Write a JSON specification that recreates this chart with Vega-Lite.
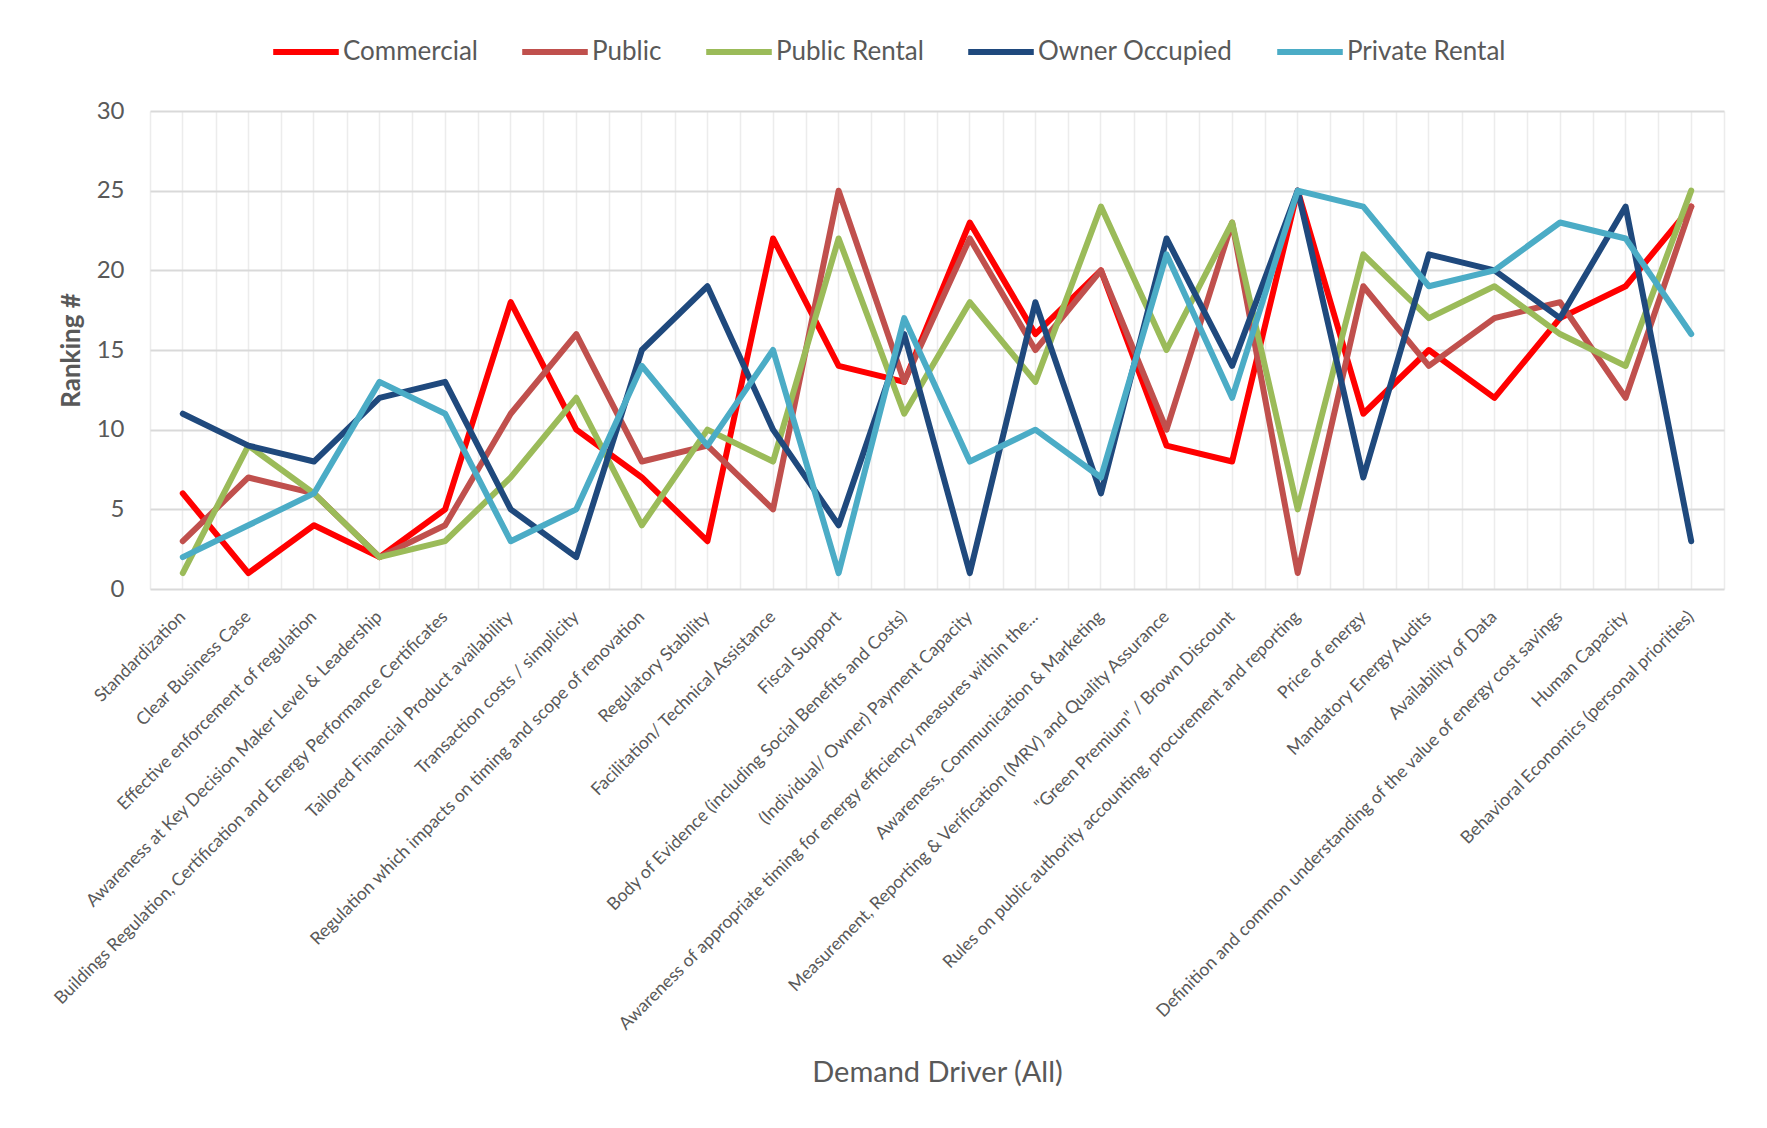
{
  "$schema": "https://vega.github.io/schema/vega-lite/v6.json",
  "autosize": {"type": "none"},
  "padding": {"left": 150, "top": 111, "right": 43, "bottom": 539},
  "width": 1574,
  "height": 478,
  "background": "white",
  "config": {
    "font": "Lato",
    "view": {"stroke": null},
    "axis": {"labelColor": "#595959", "titleColor": "#595959", "labelFont": "Lato", "titleFont": "Lato"},
    "legend": {"labelFont": "Lato"}
  },
  "datasets": {
    "ranks": [
      {"driver": "Standardization", "segment": "Commercial", "rank": 6},
      {"driver": "Clear Business Case", "segment": "Commercial", "rank": 1},
      {"driver": "Effective enforcement of regulation", "segment": "Commercial", "rank": 4},
      {"driver": "Awareness at Key Decision Maker Level & Leadership", "segment": "Commercial", "rank": 2},
      {"driver": "Buildings Regulation, Certification and Energy Performance Certificates", "segment": "Commercial", "rank": 5},
      {"driver": "Tailored Financial Product availability", "segment": "Commercial", "rank": 18},
      {"driver": "Transaction costs / simplicity", "segment": "Commercial", "rank": 10},
      {"driver": "Regulation which impacts on timing and scope of renovation", "segment": "Commercial", "rank": 7},
      {"driver": "Regulatory Stability", "segment": "Commercial", "rank": 3},
      {"driver": "Facilitation/ Technical Assistance", "segment": "Commercial", "rank": 22},
      {"driver": "Fiscal Support", "segment": "Commercial", "rank": 14},
      {"driver": "Body of Evidence (including Social Benefits and Costs)", "segment": "Commercial", "rank": 13},
      {"driver": "(Individual/ Owner) Payment Capacity", "segment": "Commercial", "rank": 23},
      {"driver": "Awareness of appropriate timing for energy efficiency measures within the...", "segment": "Commercial", "rank": 16},
      {"driver": "Awareness, Communication & Marketing", "segment": "Commercial", "rank": 20},
      {"driver": "Measurement, Reporting & Verification (MRV) and Quality Assurance", "segment": "Commercial", "rank": 9},
      {"driver": "\"Green Premium\" / Brown Discount", "segment": "Commercial", "rank": 8},
      {"driver": "Rules on public authority accounting, procurement and reporting", "segment": "Commercial", "rank": 25},
      {"driver": "Price of energy", "segment": "Commercial", "rank": 11},
      {"driver": "Mandatory Energy Audits", "segment": "Commercial", "rank": 15},
      {"driver": "Availability of Data", "segment": "Commercial", "rank": 12},
      {"driver": "Definition and common understanding of the value of energy cost savings", "segment": "Commercial", "rank": 17},
      {"driver": "Human Capacity", "segment": "Commercial", "rank": 19},
      {"driver": "Behavioral Economics (personal priorities)", "segment": "Commercial", "rank": 24},

      {"driver": "Standardization", "segment": "Public", "rank": 3},
      {"driver": "Clear Business Case", "segment": "Public", "rank": 7},
      {"driver": "Effective enforcement of regulation", "segment": "Public", "rank": 6},
      {"driver": "Awareness at Key Decision Maker Level & Leadership", "segment": "Public", "rank": 2},
      {"driver": "Buildings Regulation, Certification and Energy Performance Certificates", "segment": "Public", "rank": 4},
      {"driver": "Tailored Financial Product availability", "segment": "Public", "rank": 11},
      {"driver": "Transaction costs / simplicity", "segment": "Public", "rank": 16},
      {"driver": "Regulation which impacts on timing and scope of renovation", "segment": "Public", "rank": 8},
      {"driver": "Regulatory Stability", "segment": "Public", "rank": 9},
      {"driver": "Facilitation/ Technical Assistance", "segment": "Public", "rank": 5},
      {"driver": "Fiscal Support", "segment": "Public", "rank": 25},
      {"driver": "Body of Evidence (including Social Benefits and Costs)", "segment": "Public", "rank": 13},
      {"driver": "(Individual/ Owner) Payment Capacity", "segment": "Public", "rank": 22},
      {"driver": "Awareness of appropriate timing for energy efficiency measures within the...", "segment": "Public", "rank": 15},
      {"driver": "Awareness, Communication & Marketing", "segment": "Public", "rank": 20},
      {"driver": "Measurement, Reporting & Verification (MRV) and Quality Assurance", "segment": "Public", "rank": 10},
      {"driver": "\"Green Premium\" / Brown Discount", "segment": "Public", "rank": 23},
      {"driver": "Rules on public authority accounting, procurement and reporting", "segment": "Public", "rank": 1},
      {"driver": "Price of energy", "segment": "Public", "rank": 19},
      {"driver": "Mandatory Energy Audits", "segment": "Public", "rank": 14},
      {"driver": "Availability of Data", "segment": "Public", "rank": 17},
      {"driver": "Definition and common understanding of the value of energy cost savings", "segment": "Public", "rank": 18},
      {"driver": "Human Capacity", "segment": "Public", "rank": 12},
      {"driver": "Behavioral Economics (personal priorities)", "segment": "Public", "rank": 24},

      {"driver": "Standardization", "segment": "Public Rental", "rank": 1},
      {"driver": "Clear Business Case", "segment": "Public Rental", "rank": 9},
      {"driver": "Effective enforcement of regulation", "segment": "Public Rental", "rank": 6},
      {"driver": "Awareness at Key Decision Maker Level & Leadership", "segment": "Public Rental", "rank": 2},
      {"driver": "Buildings Regulation, Certification and Energy Performance Certificates", "segment": "Public Rental", "rank": 3},
      {"driver": "Tailored Financial Product availability", "segment": "Public Rental", "rank": 7},
      {"driver": "Transaction costs / simplicity", "segment": "Public Rental", "rank": 12},
      {"driver": "Regulation which impacts on timing and scope of renovation", "segment": "Public Rental", "rank": 4},
      {"driver": "Regulatory Stability", "segment": "Public Rental", "rank": 10},
      {"driver": "Facilitation/ Technical Assistance", "segment": "Public Rental", "rank": 8},
      {"driver": "Fiscal Support", "segment": "Public Rental", "rank": 22},
      {"driver": "Body of Evidence (including Social Benefits and Costs)", "segment": "Public Rental", "rank": 11},
      {"driver": "(Individual/ Owner) Payment Capacity", "segment": "Public Rental", "rank": 18},
      {"driver": "Awareness of appropriate timing for energy efficiency measures within the...", "segment": "Public Rental", "rank": 13},
      {"driver": "Awareness, Communication & Marketing", "segment": "Public Rental", "rank": 24},
      {"driver": "Measurement, Reporting & Verification (MRV) and Quality Assurance", "segment": "Public Rental", "rank": 15},
      {"driver": "\"Green Premium\" / Brown Discount", "segment": "Public Rental", "rank": 23},
      {"driver": "Rules on public authority accounting, procurement and reporting", "segment": "Public Rental", "rank": 5},
      {"driver": "Price of energy", "segment": "Public Rental", "rank": 21},
      {"driver": "Mandatory Energy Audits", "segment": "Public Rental", "rank": 17},
      {"driver": "Availability of Data", "segment": "Public Rental", "rank": 19},
      {"driver": "Definition and common understanding of the value of energy cost savings", "segment": "Public Rental", "rank": 16},
      {"driver": "Human Capacity", "segment": "Public Rental", "rank": 14},
      {"driver": "Behavioral Economics (personal priorities)", "segment": "Public Rental", "rank": 25},

      {"driver": "Standardization", "segment": "Owner Occupied", "rank": 11},
      {"driver": "Clear Business Case", "segment": "Owner Occupied", "rank": 9},
      {"driver": "Effective enforcement of regulation", "segment": "Owner Occupied", "rank": 8},
      {"driver": "Awareness at Key Decision Maker Level & Leadership", "segment": "Owner Occupied", "rank": 12},
      {"driver": "Buildings Regulation, Certification and Energy Performance Certificates", "segment": "Owner Occupied", "rank": 13},
      {"driver": "Tailored Financial Product availability", "segment": "Owner Occupied", "rank": 5},
      {"driver": "Transaction costs / simplicity", "segment": "Owner Occupied", "rank": 2},
      {"driver": "Regulation which impacts on timing and scope of renovation", "segment": "Owner Occupied", "rank": 15},
      {"driver": "Regulatory Stability", "segment": "Owner Occupied", "rank": 19},
      {"driver": "Facilitation/ Technical Assistance", "segment": "Owner Occupied", "rank": 10},
      {"driver": "Fiscal Support", "segment": "Owner Occupied", "rank": 4},
      {"driver": "Body of Evidence (including Social Benefits and Costs)", "segment": "Owner Occupied", "rank": 16},
      {"driver": "(Individual/ Owner) Payment Capacity", "segment": "Owner Occupied", "rank": 1},
      {"driver": "Awareness of appropriate timing for energy efficiency measures within the...", "segment": "Owner Occupied", "rank": 18},
      {"driver": "Awareness, Communication & Marketing", "segment": "Owner Occupied", "rank": 6},
      {"driver": "Measurement, Reporting & Verification (MRV) and Quality Assurance", "segment": "Owner Occupied", "rank": 22},
      {"driver": "\"Green Premium\" / Brown Discount", "segment": "Owner Occupied", "rank": 14},
      {"driver": "Rules on public authority accounting, procurement and reporting", "segment": "Owner Occupied", "rank": 25},
      {"driver": "Price of energy", "segment": "Owner Occupied", "rank": 7},
      {"driver": "Mandatory Energy Audits", "segment": "Owner Occupied", "rank": 21},
      {"driver": "Availability of Data", "segment": "Owner Occupied", "rank": 20},
      {"driver": "Definition and common understanding of the value of energy cost savings", "segment": "Owner Occupied", "rank": 17},
      {"driver": "Human Capacity", "segment": "Owner Occupied", "rank": 24},
      {"driver": "Behavioral Economics (personal priorities)", "segment": "Owner Occupied", "rank": 3},

      {"driver": "Standardization", "segment": "Private Rental", "rank": 2},
      {"driver": "Clear Business Case", "segment": "Private Rental", "rank": 4},
      {"driver": "Effective enforcement of regulation", "segment": "Private Rental", "rank": 6},
      {"driver": "Awareness at Key Decision Maker Level & Leadership", "segment": "Private Rental", "rank": 13},
      {"driver": "Buildings Regulation, Certification and Energy Performance Certificates", "segment": "Private Rental", "rank": 11},
      {"driver": "Tailored Financial Product availability", "segment": "Private Rental", "rank": 3},
      {"driver": "Transaction costs / simplicity", "segment": "Private Rental", "rank": 5},
      {"driver": "Regulation which impacts on timing and scope of renovation", "segment": "Private Rental", "rank": 14},
      {"driver": "Regulatory Stability", "segment": "Private Rental", "rank": 9},
      {"driver": "Facilitation/ Technical Assistance", "segment": "Private Rental", "rank": 15},
      {"driver": "Fiscal Support", "segment": "Private Rental", "rank": 1},
      {"driver": "Body of Evidence (including Social Benefits and Costs)", "segment": "Private Rental", "rank": 17},
      {"driver": "(Individual/ Owner) Payment Capacity", "segment": "Private Rental", "rank": 8},
      {"driver": "Awareness of appropriate timing for energy efficiency measures within the...", "segment": "Private Rental", "rank": 10},
      {"driver": "Awareness, Communication & Marketing", "segment": "Private Rental", "rank": 7},
      {"driver": "Measurement, Reporting & Verification (MRV) and Quality Assurance", "segment": "Private Rental", "rank": 21},
      {"driver": "\"Green Premium\" / Brown Discount", "segment": "Private Rental", "rank": 12},
      {"driver": "Rules on public authority accounting, procurement and reporting", "segment": "Private Rental", "rank": 25},
      {"driver": "Price of energy", "segment": "Private Rental", "rank": 24},
      {"driver": "Mandatory Energy Audits", "segment": "Private Rental", "rank": 19},
      {"driver": "Availability of Data", "segment": "Private Rental", "rank": 20},
      {"driver": "Definition and common understanding of the value of energy cost savings", "segment": "Private Rental", "rank": 23},
      {"driver": "Human Capacity", "segment": "Private Rental", "rank": 22},
      {"driver": "Behavioral Economics (personal priorities)", "segment": "Private Rental", "rank": 16}
    ]
  },
  "data": {"name": "ranks"},
  "resolve": {"axis": {"x": "independent"}},
  "layer": [
    {
      "mark": {"type": "line", "strokeOpacity": 0},
      "encoding": {
        "x": {
          "field": "driver", "type": "nominal", "sort": null,
          "scale": {"type": "band", "paddingInner": 0, "paddingOuter": 0},
          "axis": {"orient": "bottom", "tickBand": "extent", "grid": true, "gridColor": "#ececec", "gridWidth": 1.5, "labels": false, "ticks": false, "domain": false, "title": null}
        },
        "y": {"field": "rank", "type": "quantitative", "scale": {"domain": [0, 30], "nice": false}}
      }
    },
    {
      "mark": {"type": "line", "strokeWidth": 6, "strokeJoin": "round", "strokeCap": "round"},
      "encoding": {
        "x": {
          "field": "driver", "type": "nominal", "sort": null,
          "scale": {"type": "band", "paddingInner": 0, "paddingOuter": 0},
          "axis": {
            "orient": "bottom", "grid": true, "gridColor": "#ececec", "gridWidth": 1.5,
            "ticks": false, "domain": false,
            "labelAngle": -45, "labelAlign": "right", "labelBaseline": "middle",
            "labelFontSize": 17.6, "labelPadding": 25, "labelLimit": 0, "labelOverlap": false,
            "title": "Demand Driver (All)", "titleFontSize": 29, "titleFontWeight": "normal",
            "titleY": 483, "titleBaseline": "middle"
          }
        },
        "y": {
          "field": "rank", "type": "quantitative",
          "scale": {"domain": [0, 30], "nice": false},
          "axis": {
            "values": [0, 5, 10, 15, 20, 25, 30], "grid": true, "gridColor": "#d9d9d9", "gridWidth": 2,
            "ticks": false, "domain": false, "labelFontSize": 24, "labelPadding": 26,
            "title": "Ranking #", "titleFontSize": 26, "titleFontWeight": "bold", "titlePadding": 12
          }
        },
        "color": {
          "field": "segment", "type": "nominal",
          "scale": {
            "domain": ["Commercial", "Public", "Public Rental", "Owner Occupied", "Private Rental"],
            "range": ["#FF0000", "#C0504D", "#9BBB59", "#1F497D", "#4BACC6"]
          },
          "legend": {
            "orient": "none", "direction": "horizontal", "legendX": 120, "legendY": -95,
            "title": null, "symbolType": "stroke", "symbolSize": 4300, "symbolStrokeWidth": 6,
            "labelFontSize": 26, "labelColor": "#595959", "labelOffset": 1, "columnPadding": 32,
            "labelLimit": 0
          }
        }
      }
    }
  ]
}
